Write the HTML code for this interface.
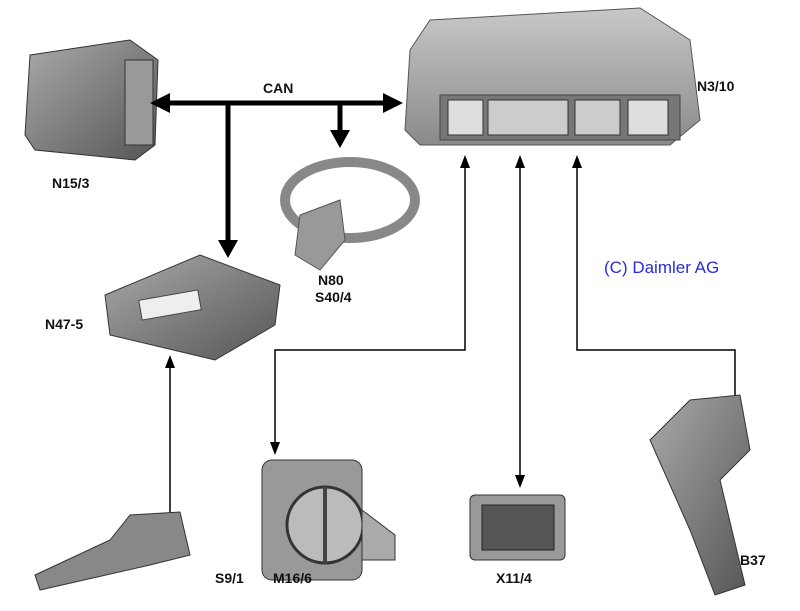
<!DOCTYPE html>
<html><head><meta charset="utf-8"><style>
body{margin:0;background:#fff;width:800px;height:611px;overflow:hidden;position:relative;font-family:"Liberation Sans",Arial,sans-serif}
.l{position:absolute;font-weight:bold;font-size:14px;color:#111}
</style></head><body>
<svg width="800" height="611" style="position:absolute;left:0;top:0">
<defs>
<linearGradient id="g1" x1="0" y1="0" x2="0" y2="1"><stop offset="0" stop-color="#c8c8c8"/><stop offset="1" stop-color="#8a8a8a"/></linearGradient>
<linearGradient id="g2" x1="0" y1="0" x2="1" y2="1"><stop offset="0" stop-color="#aaa"/><stop offset="1" stop-color="#555"/></linearGradient>
</defs>
<!-- N3/10 -->
<polygon points="430,20 640,8 690,40 700,120 670,145 420,145 405,130 410,50" fill="url(#g1)" stroke="#555"/>
<rect x="440" y="95" width="240" height="45" fill="#777" stroke="#444"/>
<rect x="448" y="100" width="35" height="35" fill="#ddd" stroke="#333"/>
<rect x="488" y="100" width="80" height="35" fill="#ccc" stroke="#333"/>
<rect x="575" y="100" width="45" height="35" fill="#ccc" stroke="#333"/>
<rect x="628" y="100" width="40" height="35" fill="#ddd" stroke="#333"/>
<!-- N15/3 -->
<polygon points="30,55 130,40 158,60 155,145 135,160 35,150 25,135" fill="url(#g2)" stroke="#333"/>
<rect x="125" y="60" width="28" height="85" fill="#999" stroke="#333"/>
<!-- CAN lines -->
<g stroke="#000" stroke-width="5" fill="#000">
<line x1="165" y1="103" x2="390" y2="103"/>
<line x1="228" y1="103" x2="228" y2="245"/>
<line x1="340" y1="103" x2="340" y2="135"/>
</g>
<polygon points="150,103 170,93 170,113" fill="#000"/>
<polygon points="403,103 383,93 383,113" fill="#000"/>
<polygon points="228,258 218,240 238,240" fill="#000"/>
<polygon points="340,148 330,130 350,130" fill="#000"/>
<!-- steering wheel -->
<ellipse cx="350" cy="200" rx="65" ry="38" fill="none" stroke="#888" stroke-width="10"/>
<polygon points="300,215 340,200 345,240 320,270 295,255" fill="#999" stroke="#555"/>
<!-- N47-5 -->
<polygon points="105,295 200,255 280,285 275,325 215,360 110,335" fill="url(#g2)" stroke="#333"/>
<rect x="140" y="295" width="60" height="20" fill="#eee" stroke="#444" transform="rotate(-10 170 305)"/>
<!-- thin lines -->
<g stroke="#000" stroke-width="1.5" fill="none">
<line x1="170" y1="515" x2="170" y2="365"/>
<polyline points="465,165 465,350 275,350 275,445"/>
<line x1="520" y1="165" x2="520" y2="478"/>
<polyline points="577,165 577,350 735,350 735,400"/>
</g>
<polygon points="170,355 165,368 175,368" fill="#000"/>
<polygon points="465,155 460,168 470,168" fill="#000"/>
<polygon points="275,455 270,442 280,442" fill="#000"/>
<polygon points="520,155 515,168 525,168" fill="#000"/>
<polygon points="520,488 515,475 525,475" fill="#000"/>
<polygon points="577,155 572,168 582,168" fill="#000"/>
<!-- S9/1 -->
<polygon points="35,575 110,540 130,515 180,512 190,555 150,565 40,590" fill="#888" stroke="#333"/>
<!-- M16/6 -->
<rect x="262" y="460" width="100" height="120" rx="10" fill="#999" stroke="#333"/>
<circle cx="325" cy="525" r="38" fill="#bbb" stroke="#333" stroke-width="3"/>
<line x1="325" y1="487" x2="325" y2="563" stroke="#444" stroke-width="4"/>
<polygon points="362,510 395,535 395,560 362,560" fill="#aaa" stroke="#333"/>
<!-- X11/4 -->
<rect x="470" y="495" width="95" height="65" rx="5" fill="#999" stroke="#333"/>
<rect x="482" y="505" width="72" height="45" fill="#555" stroke="#222"/>
<!-- B37 pedal -->
<polygon points="690,400 740,395 750,450 720,480 745,585 715,595 690,530 650,440 680,410" fill="url(#g2)" stroke="#333"/>
</svg>
<div class="l" style="left:263px;top:80px">CAN</div>
<div class="l" style="left:697px;top:78px">N3/10</div>
<div class="l" style="left:52px;top:175px">N15/3</div>
<div class="l" style="left:318px;top:272px">N80</div>
<div class="l" style="left:315px;top:289px">S40/4</div>
<div class="l" style="left:45px;top:316px">N47-5</div>
<div class="l" style="left:215px;top:570px">S9/1</div>
<div class="l" style="left:273px;top:570px">M16/6</div>
<div class="l" style="left:496px;top:570px">X11/4</div>
<div class="l" style="left:740px;top:552px">B37</div>
<div style="position:absolute;left:604px;top:258px;font-size:17px;color:#2a2ae0">(C) Daimler AG</div>
</body></html>
